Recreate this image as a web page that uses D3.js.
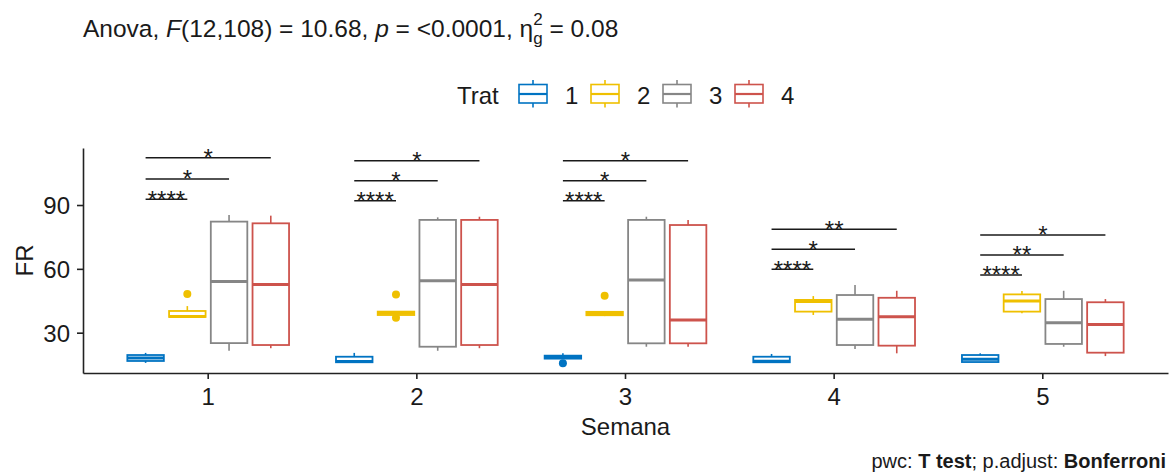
<!DOCTYPE html>
<html>
<head>
<meta charset="utf-8">
<script src="https://cdn.jsdelivr.net/npm/d3@7"></script>
<style>
    body { margin: 0; background: #fff; }
    #chart-area { width: 1176px; height: 473px; }
    text { font-family: "Liberation Sans", Arial, sans-serif; fill: #1a1a1a; }
</style>
</head>
<body>
<div id="chart-area"></div>
<script>

// categories
const semanas = ["1", "2", "3", "4", "5"];
const trats = ["1", "2", "3", "4"];

// box stats, one row per semana, one column per trat
const whiskerLow = [
    [15.8, 37.4, 21.5, 22.7],
    [16.0, 38.0, 21.5, 22.7],
    [17.6, 37.8, 23.4, 23.4],
    [16.1, 38.3, 22.3, 20.3],
    [16.1, 39.1, 23.4, 19.0]
];
const q1 = [
    [16.7, 37.4, 25.1, 24.2],
    [16.1, 38.3, 23.4, 24.2],
    [17.8, 38.2, 25.0, 25.0],
    [16.1, 39.9, 24.2, 23.9],
    [16.2, 39.9, 24.7, 20.6]
];
const median = [
    [18.1, 37.6, 54.0, 52.7],
    [16.5, 39.1, 54.4, 52.7],
    [18.3, 39.0, 54.8, 36.0],
    [16.6, 44.6, 36.3, 37.5],
    [17.5, 44.9, 34.7, 33.9]
];
const q3 = [
    [19.5, 40.2, 82.2, 81.4],
    [18.7, 39.9, 83.0, 83.0],
    [19.2, 39.8, 83.0, 80.6],
    [18.7, 45.4, 47.7, 46.4],
    [19.5, 48.0, 45.8, 44.3]
];
const whiskerHigh = [
    [20.5, 42.5, 85.3, 85.0],
    [20.5, 39.9, 84.2, 84.5],
    [20.3, 40.2, 84.5, 83.0],
    [20.0, 47.2, 52.4, 49.7],
    [20.3, 49.6, 49.7, 45.8]
];
const outliers = [
    {semana: "1", trat: "2", value: 48.2},
    {semana: "2", trat: "2", value: 48.0},
    {semana: "2", trat: "2", value: 37.0},
    {semana: "3", trat: "1", value: 15.6},
    {semana: "3", trat: "2", value: 47.4}
];

// pairwise comparisons: trat 1 vs each of these
const compareWith = ["2", "3", "4"];
const bracketY = [
    [92.7, 102.2, 112.2],
    [92.0, 101.4, 110.8],
    [92.0, 101.4, 110.8],
    [59.8, 69.2, 78.6],
    [57.1, 66.5, 75.9]
];
const bracketLabels = [
    ["****", "*", "*"],
    ["****", "*", "*"],
    ["****", "*", "*"],
    ["****", "*", "**"],
    ["****", "**", "*"]
];

const yTicks = [30, 60, 90];
const yDomain = [11.05, 116.8];

const tratColors = ["#0073C2", "#EFC000", "#868686", "#CD534C"];


class BoxChart {

    constructor(parentElement) {
        this.parentElement = parentElement;
        this.initVis();
    }

    initVis() {
        let vis = this;

        vis.width = 1176;
        vis.height = 473;
        vis.plot = {left: 83, right: 1168, top: 148, bottom: 373};

        vis.svg = d3.select("#" + vis.parentElement).append("svg")
            .attr("width", vis.width)
            .attr("height", vis.height);

        // scales
        vis.x = d3.scaleBand()
            .domain(semanas)
            .range([vis.plot.left, vis.plot.right])
            .paddingInner(0)
            .paddingOuter(0.1);

        let step = vis.x.step();
        vis.xTrat = d3.scaleBand()
            .domain(trats)
            .range([-0.4 * step, 0.4 * step]);

        vis.y = d3.scaleLinear()
            .domain(yDomain)
            .range([vis.plot.bottom, vis.plot.top]);

        vis.color = d3.scaleOrdinal()
            .domain(trats)
            .range(tratColors);

        vis.drawTitle();
        vis.drawLegend();
        vis.drawAxes();
        vis.updateVis();
    }

    cx(semana, trat) {
        let vis = this;
        return vis.x(semana) + vis.x.bandwidth() / 2 + vis.xTrat(trat) + vis.xTrat.bandwidth() / 2;
    }

    drawTitle() {
        let vis = this;

        let title = vis.svg.append("text")
            .attr("x", 83)
            .attr("y", 37)
            .attr("font-size", 24.5);
        title.append("tspan").text("Anova, ");
        title.append("tspan").attr("font-style", "italic").text("F");
        title.append("tspan").text("(12,108) = 10.68, ");
        title.append("tspan").attr("font-style", "italic").text("p");
        title.append("tspan").text(" = <0.0001, η");
        title.append("tspan").attr("font-size", 17).attr("dy", 7).text("g");
        title.append("tspan").attr("font-size", 17).attr("dx", -9.5).attr("dy", -19).text("2");
        title.append("tspan").attr("dy", 12).text(" = 0.08");

        // caption
        let caption = vis.svg.append("text")
            .attr("x", 1166)
            .attr("y", 468)
            .attr("text-anchor", "end")
            .attr("font-size", 20);
        caption.append("tspan").text("pwc: ");
        caption.append("tspan").attr("font-weight", "bold").text("T test");
        caption.append("tspan").text("; p.adjust: ");
        caption.append("tspan").attr("font-weight", "bold").text("Bonferroni");
    }

    drawLegend() {
        let vis = this;

        let legend = vis.svg.append("g").attr("class", "legend");

        legend.append("text")
            .attr("x", 457)
            .attr("y", 104)
            .attr("font-size", 24)
            .text("Trat");

        let item = legend.selectAll(".legend-item")
            .data(trats)
            .enter().append("g")
            .attr("class", "legend-item")
            .attr("transform", (d, i) => `translate(${519 + i * 72}, 0)`);

        item.append("line")
            .attr("x1", 14).attr("x2", 14)
            .attr("y1", 80).attr("y2", 107.5)
            .attr("stroke", d => vis.color(d))
            .attr("stroke-width", 1.6);

        item.append("rect")
            .attr("x", 0).attr("y", 84.5)
            .attr("width", 28).attr("height", 18.5)
            .attr("fill", "white")
            .attr("stroke", d => vis.color(d))
            .attr("stroke-width", 1.6);

        item.append("line")
            .attr("x1", 0).attr("x2", 28)
            .attr("y1", 94).attr("y2", 94)
            .attr("stroke", d => vis.color(d))
            .attr("stroke-width", 2.2);

        item.append("text")
            .attr("x", 46)
            .attr("y", 104)
            .attr("font-size", 24)
            .text(d => d);
    }

    drawAxes() {
        let vis = this;

        let yAxis = vis.svg.append("g")
            .attr("transform", `translate(${vis.plot.left}, 0)`)
            .call(d3.axisLeft(vis.y).tickValues(yTicks).tickSize(6).tickSizeOuter(0).tickPadding(7));

        let xAxis = vis.svg.append("g")
            .attr("transform", `translate(0, ${vis.plot.bottom})`)
            .call(d3.axisBottom(vis.x).tickSize(6).tickSizeOuter(0).tickPadding(9));

        [xAxis, yAxis].forEach(ax => {
            ax.select(".domain").attr("stroke", "#222").attr("stroke-width", 1.6);
            ax.selectAll(".tick line").attr("stroke", "#222").attr("stroke-width", 1.6);
            ax.selectAll(".tick text")
                .attr("font-family", "Liberation Sans, Arial, sans-serif")
                .attr("font-size", 24)
                .attr("fill", "#1a1a1a");
        });
        yAxis.selectAll(".tick text").attr("dy", "0.36em");

        // axis titles
        vis.svg.append("text")
            .attr("transform", `translate(33, ${(vis.plot.top + vis.plot.bottom) / 2}) rotate(-90)`)
            .attr("text-anchor", "middle")
            .attr("font-size", 24)
            .text("FR");

        vis.svg.append("text")
            .attr("x", (vis.plot.left + vis.plot.right) / 2)
            .attr("y", 435)
            .attr("text-anchor", "middle")
            .attr("font-size", 24)
            .text("Semana");
    }

    updateVis() {
        let vis = this;

        // flatten stats into one record per box
        let boxes = [];
        semanas.forEach((s, i) => {
            trats.forEach((t, j) => {
                boxes.push({
                    semana: s, trat: t,
                    lo: whiskerLow[i][j], q1: q1[i][j], med: median[i][j],
                    q3: q3[i][j], hi: whiskerHigh[i][j]
                });
            });
        });

        let bw = vis.xTrat.bandwidth() * 0.875;

        let box = vis.svg.append("g").attr("class", "boxes")
            .selectAll(".box")
            .data(boxes)
            .enter().append("g")
            .attr("class", "box");

        box.append("line")
            .attr("x1", d => vis.cx(d.semana, d.trat))
            .attr("x2", d => vis.cx(d.semana, d.trat))
            .attr("y1", d => vis.y(d.hi))
            .attr("y2", d => vis.y(d.q3))
            .attr("stroke", d => vis.color(d.trat))
            .attr("stroke-width", 1.6);

        box.append("line")
            .attr("x1", d => vis.cx(d.semana, d.trat))
            .attr("x2", d => vis.cx(d.semana, d.trat))
            .attr("y1", d => vis.y(d.q1))
            .attr("y2", d => vis.y(d.lo))
            .attr("stroke", d => vis.color(d.trat))
            .attr("stroke-width", 1.6);

        box.append("rect")
            .attr("x", d => vis.cx(d.semana, d.trat) - bw / 2)
            .attr("y", d => vis.y(d.q3))
            .attr("width", bw)
            .attr("height", d => vis.y(d.q1) - vis.y(d.q3))
            .attr("fill", "white")
            .attr("stroke", d => vis.color(d.trat))
            .attr("stroke-width", 1.8);

        box.append("line")
            .attr("x1", d => vis.cx(d.semana, d.trat) - bw / 2)
            .attr("x2", d => vis.cx(d.semana, d.trat) + bw / 2)
            .attr("y1", d => vis.y(d.med))
            .attr("y2", d => vis.y(d.med))
            .attr("stroke", d => vis.color(d.trat))
            .attr("stroke-width", 3);

        vis.svg.append("g").attr("class", "outliers")
            .selectAll("circle")
            .data(outliers)
            .enter().append("circle")
            .attr("cx", d => vis.cx(d.semana, d.trat))
            .attr("cy", d => vis.y(d.value))
            .attr("r", 4)
            .attr("fill", d => vis.color(d.trat));

        // significance brackets
        let brackets = [];
        semanas.forEach((s, i) => {
            compareWith.forEach((t, k) => {
                brackets.push({semana: s, group2: t, y: bracketY[i][k], label: bracketLabels[i][k]});
            });
        });

        let br = vis.svg.append("g").attr("class", "brackets")
            .selectAll(".bracket")
            .data(brackets)
            .enter().append("g")
            .attr("class", "bracket");

        br.append("line")
            .attr("x1", d => vis.cx(d.semana, "1"))
            .attr("x2", d => vis.cx(d.semana, d.group2))
            .attr("y1", d => vis.y(d.y))
            .attr("y2", d => vis.y(d.y))
            .attr("stroke", "#1a1a1a")
            .attr("stroke-width", 1.5);

        br.append("text")
            .attr("x", d => (vis.cx(d.semana, "1") + vis.cx(d.semana, d.group2)) / 2)
            .attr("y", d => vis.y(d.y) + 8.3)
            .attr("text-anchor", "middle")
            .attr("font-size", 24)
            .text(d => d.label);
    }
}

new BoxChart("chart-area");

</script>
</body>
</html>
